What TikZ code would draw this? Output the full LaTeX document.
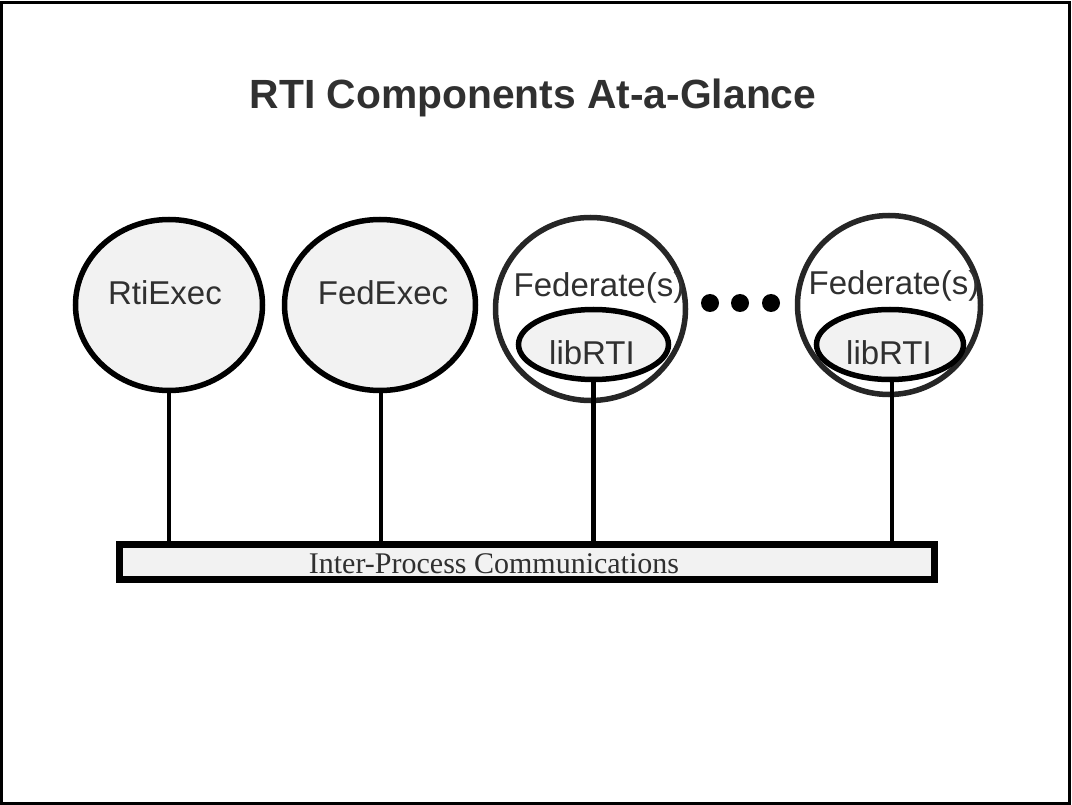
\documentclass[tikz,border=0pt]{standalone}
\usepackage{fontspec}
\setmainfont{Liberation Serif}
\setsansfont{Liberation Sans}
\usetikzlibrary{shapes.geometric}
\definecolor{lightfill}{HTML}{F2F2F2}
\definecolor{txt}{HTML}{303030}
\tikzset{
  proc/.style={ellipse, draw=black, line width=5.5pt, fill=lightfill, inner sep=0pt},
  fed/.style={ellipse, draw=black!85, line width=5.5pt, fill=white, inner sep=0pt},
  lib/.style={ellipse, draw=black, line width=5.5pt, fill=lightfill, inner sep=0pt},
  label/.style={font=\sffamily\fontsize{33}{36}\selectfont, text=txt, inner sep=0pt, anchor=base},
  link/.style={line width=4.5pt, black},
  dotmark/.style={circle, fill=black, minimum size=18pt, inner sep=0pt},
}
\begin{document}
\begin{tikzpicture}[x=1pt,y=-1pt]
\useasboundingbox (0,0) rectangle (1072,805);
\draw[line width=3pt] (1.5,2.5) rectangle (1069.5,803.5);

\node[font=\sffamily\bfseries\fontsize{40.8}{44}\selectfont, text=txt, anchor=base, inner sep=0pt] (title) at (533,109) {RTI Components At-a-Glance};

\node[proc, minimum width=187pt, minimum height=171pt] (rti) at (169,305) {};
\node[proc, minimum width=191pt, minimum height=171pt] (fedexec) at (380,305) {};
\node[fed, minimum width=190pt, minimum height=183pt] (fed1) at (590.5,309) {};
\node[lib, minimum width=150pt, minimum height=70pt] (lib1) at (593.5,344.5) {};
\node[fed, minimum width=183pt, minimum height=179pt] (fed2) at (889,305) {};
\node[lib, minimum width=147pt, minimum height=70pt] (lib2) at (890,344.5) {};

\node[label] (trti) at (165,305) {RtiExec};
\node[label] (tfedexec) at (383,305) {FedExec};
\node[label] (tfed1) at (599,297) {Federate(s)};
\node[label] (tlib1) at (592,365) {libRTI};
\node[label] (tfed2) at (894,295) {Federate(s)};
\node[label] (tlib2) at (889,365) {libRTI};

\node[dotmark] (d1) at (710,303) {};
\node[dotmark] (d2) at (740,303) {};
\node[dotmark] (d3) at (771,303) {};

\node[rectangle, draw=black, line width=7pt, fill=lightfill, minimum width=814.5pt, minimum height=34.5pt, inner sep=0pt] (ipc) at (526.75,561.75) {};
\node[font=\fontsize{30}{32}\selectfont, text=txt, anchor=base, inner sep=0pt] (tipc) at (494,573) {Inter-Process Communications};

\draw[link] (rti.south) -- (rti.south |- ipc.north);
\draw[link] (fedexec.south) ++(1,0) coordinate (fe) -- (fe |- ipc.north);
\draw[link] (lib1.south) -- (lib1.south |- ipc.north);
\draw[link] (lib2.south) ++(2,0) coordinate (l2) -- (l2 |- ipc.north);
\end{tikzpicture}
\end{document}
